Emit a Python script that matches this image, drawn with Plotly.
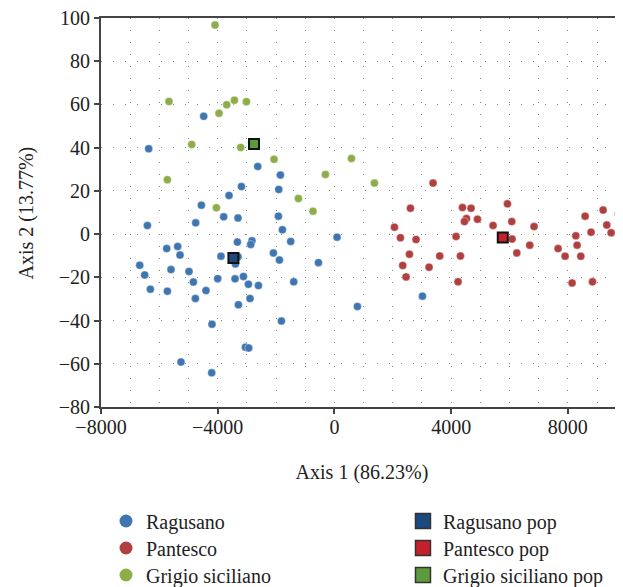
import plotly.graph_objects as go

# ---- data ----
rag_x = [-4480, -6366, -2629, -3188, -3613, -4559, -3795, -3305, -4755, -6410,
         -3325, -2825, -2869, -5749, -5372, -5293, -3887, -3305, -3394, -6674,
         -5601, -4984, -6503, -4001, -3407, -3119, -4834, -2948, -2605, -6308,
         -5725, -4402, -4765, -2893, -3291, -4196, -3051, -2938, -5259, -4206,
         -1851, -1909, -1920, -1783, -1498, 89, -2091, -1885, -548,
         -1395, -1817, 788, 3017]
rag_y = [54.5, 39.5, 31.3, 22.0, 17.9, 13.4, 8.0, 7.5, 5.2, 4.0,
         -3.7, -3.1, -4.8, -6.7, -5.7, -9.7, -10.2, -10.5, -13.8, -14.4,
         -16.4, -17.3, -18.9, -20.6, -20.7, -19.6, -22.2, -23.2, -23.8, -25.5,
         -26.4, -26.1, -29.8, -29.8, -32.7, -41.7, -52.3, -52.7, -59.2, -64.2,
         27.3, 20.7, 8.3, 2.0, -3.4, -1.4, -8.7, -12.0, -13.2,
         -22.1, -40.2, -33.5, -28.7]

pan_x = [3380, 2605, 2057, 2262, 2797, 2571, 3610, 2341, 3243, 2455,
         4388, 4683, 5930, 4525, 4456, 4902, 6078, 5437, 6842, 8591,
         9208, 9735, 9334, 8796, 9482, 8272, 4169, 6089, 8317, 6695,
         7665, 6250, 4319, 7906, 8443, 4237, 8145, 8844]
pan_y = [23.6, 12.0, 3.2, -1.7, -2.5, -9.3, -10.1, -14.5, -15.3, -19.8,
         12.3, 12.0, 14.0, 7.2, 5.8, 6.9, 5.8, 4.0, 3.5, 8.3,
         11.1, 9.5, 4.2, 0.9, 0.6, -0.8, -1.1, -2.3, -5.1, -5.1,
         -6.7, -8.7, -10.1, -10.2, -10.2, -22.1, -22.6, -22.1]

gri_x = [-4093, -5670, -3956, -3692, -3428, -3017, -4892, -3212, -5725, -4045,
         -2070, 583, -309, 1371, -1234, -734]
gri_y = [96.8, 61.4, 55.9, 59.9, 61.9, 61.3, 41.5, 40.1, 25.2, 12.2,
         34.6, 35.0, 27.6, 23.6, 16.5, 10.6]

pop_names = ["Ragusano pop", "Pantesco pop", "Grigio siciliano pop"]
pop_x = [-3462, 5769, -2756]
pop_y = [-11.1, -1.6, 41.7]

x_ticks = [-8000, -4000, 0, 4000, 8000]
y_ticks = [-80, -60, -40, -20, 0, 20, 40, 60, 80, 100]

x_title = "Axis 1 (86.23%)"
y_title = "Axis 2 (13.77%)"

# ---- styles ----
pt_colors = {"Ragusano": "#3f76b1", "Pantesco": "#b0403f", "Grigio siciliano": "#8cad47"}
pop_colors = ["#1c4a7e", "#c4212b", "#5c9b3d"]
FONT = "Liberation Serif"

fig = go.Figure()

groups = [("Ragusano", rag_x, rag_y), ("Pantesco", pan_x, pan_y), ("Grigio siciliano", gri_x, gri_y)]
for name, xs, ys in groups:
    fig.add_trace(go.Scatter(
        x=xs, y=ys, mode="markers", name=name, showlegend=False, legendgroup=name,
        marker=dict(symbol="circle", size=8, color=pt_colors[name],
                    line=dict(color="rgba(255,255,255,0.6)", width=0.6)),
        hoverinfo="skip"))

for i, nm in enumerate(pop_names):
    fig.add_trace(go.Scatter(
        x=[pop_x[i]], y=[pop_y[i]], mode="markers", name=nm, showlegend=False, legendgroup=nm,
        marker=dict(symbol="square", size=10, color=pop_colors[i],
                    line=dict(color="#111", width=2)),
        hoverinfo="skip"))

# legend entries: one small legend per row so the rows sit where the reference has them
row_y = [0.1261, 0.0801, 0.0341]
col_x = [0.1573, 0.634]
legend_layout = {}
for r, (name, _, _) in enumerate(groups):
    key = "legend" if r == 0 else "legend%d" % (r + 1)
    fig.add_trace(go.Scatter(
        x=[None], y=[None], mode="markers", name=name, legendgroup=name, legend=key,
        marker=dict(symbol="circle", size=13, color=pt_colors[name])))
    legend_layout[key] = dict(xref="container", yref="container", x=col_x[0], y=row_y[r],
                              xanchor="left", yanchor="middle",
                              font=dict(family=FONT, size=20, color="#222"),
                              bgcolor="rgba(0,0,0,0)", itemclick=False)
for r, nm in enumerate(pop_names):
    key = "legend%d" % (r + 4)
    fig.add_trace(go.Scatter(
        x=[None], y=[None], mode="markers", name=nm, legendgroup=nm, legend=key,
        marker=dict(symbol="square", size=15, color=pop_colors[r],
                    line=dict(color="#333", width=1.5))))
    legend_layout[key] = dict(xref="container", yref="container", x=col_x[1], y=row_y[r],
                              xanchor="left", yanchor="middle",
                              font=dict(family=FONT, size=20, color="#222"),
                              bgcolor="rgba(0,0,0,0)", itemclick=False)

grid_style = dict(gridcolor="#8a8a8a", gridwidth=1, griddash="1px,11px")

fig.update_layout(
    width=623, height=587,
    margin=dict(l=93, r=8, t=10, b=188, autoexpand=False),
    plot_bgcolor="white", paper_bgcolor="white",
    font=dict(family=FONT, size=20, color="#222"),
    **legend_layout,
)

fig.update_xaxes(
    range=[-8000, 9890], tickmode="array", tickvals=x_ticks,
    showgrid=True, **grid_style,
    minor=dict(dtick=1000, tick0=0, showgrid=True, **grid_style),
    showline=True, linecolor="#444", linewidth=2, mirror=True,
    ticks="outside", ticklen=5, tickcolor="#444", tickwidth=1.5,
    zeroline=False, tickfont=dict(size=20), tickangle=0,
    ticklabeloverflow="allow", ticklabelstandoff=-4,
    title=dict(text=x_title, font=dict(size=20), standoff=28),
)
fig.update_yaxes(
    range=[-80, 100], tickmode="array", tickvals=y_ticks,
    showgrid=True, **grid_style,
    showline=True, linecolor="#444", linewidth=2,
    ticks="outside", ticklen=5, tickcolor="#444", tickwidth=1.5,
    zeroline=False, tickfont=dict(size=20), ticklabeloverflow="allow",
)

# y-axis title as a rotated text annotation left of the tick labels
fig.add_annotation(text=y_title, xref="paper", yref="paper", x=-0.1418, y=0.5,
                   textangle=-90, showarrow=False, xanchor="center", yanchor="middle",
                   font=dict(family=FONT, size=20, color="#222"))

fig.write_html("out.html")
